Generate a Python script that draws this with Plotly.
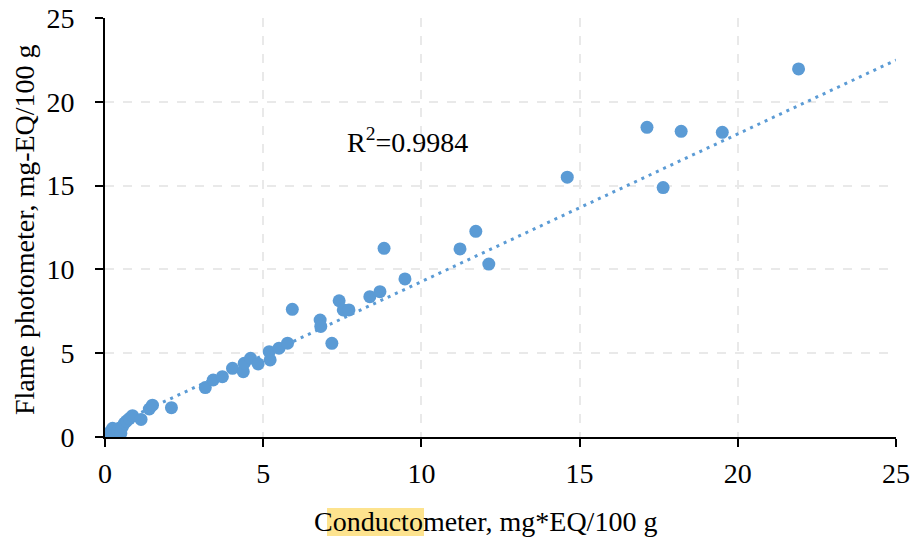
import plotly.graph_objects as go

# conductometer vs flame photometer readings, mg-EQ/100 g
conductometer = [0.03, 0.10, 0.14, 0.20, 0.24, 0.30, 0.35, 0.40, 0.45, 0.50,
                 0.55, 0.61, 0.68, 0.77, 0.87, 1.14, 1.40, 1.50, 2.10, 3.17,
                 3.42, 3.71, 4.03, 4.37, 4.40, 4.60, 4.84, 5.19, 5.22, 5.50,
                 5.77, 5.92, 6.80, 6.82, 7.17, 7.40, 7.53, 7.71, 8.37, 8.69,
                 8.82, 9.48, 11.22, 11.72, 12.13, 14.61, 17.13, 17.64, 18.21,
                 19.51, 21.92]
flame = [0.02, 0.10, 0.22, 0.35, 0.52, 0.15, 0.05, 0.40, 0.52, 0.22,
         0.60, 0.82, 0.95, 1.10, 1.27, 1.05, 1.67, 1.90, 1.75, 2.95,
         3.40, 3.60, 4.10, 3.90, 4.40, 4.70, 4.36, 5.09, 4.60, 5.30,
         5.60, 7.62, 6.98, 6.60, 5.59, 8.13, 7.58, 7.58, 8.37, 8.67,
         11.26, 9.43, 11.22, 12.27, 10.32, 15.50, 18.48, 14.88, 18.24,
         18.18, 21.96]
# linear trendline as drawn in the chart
trend_x = [0, 25]
trend_y = [0.46, 22.49]
r2_label = "R<sup>2</sup>=0.9984"

blue = "#5B9BD5"
font = "Liberation Serif, Times New Roman, serif"
fs = 28

fig = go.Figure()
fig.add_trace(go.Scatter(x=trend_x, y=trend_y, mode="lines",
                         line=dict(color=blue, width=3, dash="3px,5px"),
                         hoverinfo="skip"))
fig.add_trace(go.Scatter(x=conductometer, y=flame, mode="markers",
                         marker=dict(color=blue, size=13)))

fig.add_annotation(x=9.56, y=17.7, text=r2_label, showarrow=False,
                   font=dict(family=font, size=fs, color="black"))

# plot area in pixels: x 105..896, y 18..437
pw, ph = 791, 419
# highlight behind part of the x title
fig.add_shape(type="rect", xref="paper", yref="paper",
              x0=(327 - 105) / pw, x1=(424 - 105) / pw,
              y0=-(508 - 437) / ph, y1=-(536 - 437) / ph,
              fillcolor="#FDE38E", line_width=0, layer="below")
fig.add_annotation(xref="paper", yref="paper", x=(485 - 105) / pw,
                   y=-(521 - 437) / ph, xanchor="center", yanchor="middle",
                   text="Conductometer, mg*EQ/100 g", showarrow=False,
                   font=dict(family=font, size=fs, color="black"))
fig.add_annotation(xref="paper", yref="paper", x=-(105 - 24) / pw,
                   y=(437 - 230) / ph, xanchor="center", yanchor="middle",
                   text="Flame photometer, mg-EQ/100 g",
                   textangle=-90, showarrow=False,
                   font=dict(family=font, size=fs, color="black"))

axis_common = dict(
    range=[0, 25], dtick=5, showline=True, linecolor="black", linewidth=2,
    ticks="outside", ticklen=8, tickcolor="black", tickwidth=1.5,
    showgrid=True, gridcolor="#E9E9E9", gridwidth=1.5, griddash="dash",
    zeroline=False, automargin=False,
    tickfont=dict(family=font, size=fs, color="black"),
)
fig.update_xaxes(**axis_common, ticklabelstandoff=2)
fig.update_yaxes(**axis_common, ticklabelstandoff=15)

fig.update_layout(
    width=914, height=537, showlegend=False,
    margin=dict(l=105, r=18, t=18, b=100),
    plot_bgcolor="white", paper_bgcolor="white",
)
fig.write_html("out.html", config={"displayModeBar": False},
               post_script="document.body.style.margin='0';")
